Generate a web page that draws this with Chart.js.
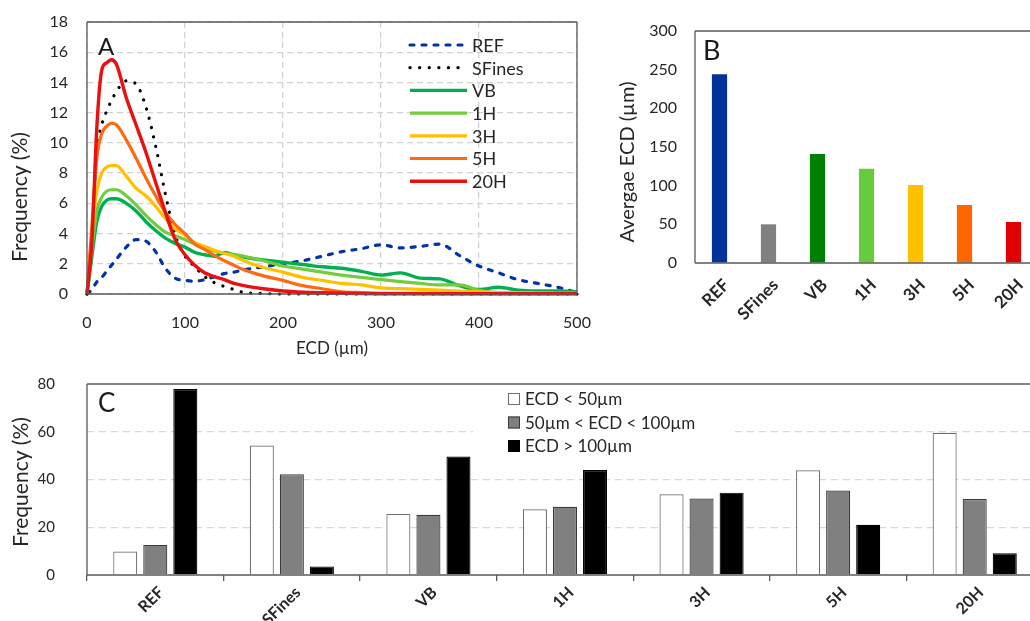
<!DOCTYPE html>
<html>
<head>
<meta charset="utf-8">
<script src="https://cdn.jsdelivr.net/npm/chart.js@4.4.1/dist/chart.umd.min.js"></script>
<style>
  html, body { margin: 0; padding: 0; background: #fff; width: 1030px; height: 621px; overflow: hidden; }
  canvas { position: absolute; }
  #chartA { left: 0; top: 0; }
  #chartB { left: 600px; top: 0; }
  #chartC { left: 0; top: 360px; }
</style>
</head>
<body>
<canvas id="chartA" width="600" height="360"></canvas>
<canvas id="chartB" width="450" height="340"></canvas>
<canvas id="chartC" width="1060" height="261"></canvas>
<script>
// ECD classes (µm) used for the size distributions of panel A
const ecd = [0, 5, 10, 15, 20, 25, 30, 40, 50, 60, 70, 80, 90, 100, 110, 120, 130, 140, 150, 160,
  180, 200, 220, 240, 260, 280, 300, 320, 340, 360, 380, 400, 420, 440, 460, 480, 500];

// frequency (%) per sample
const freqREF = [0, 0.3, 0.8, 1.1, 1.5, 1.9, 2.3, 3.1, 3.6, 3.5, 2.8, 1.7, 1.05, 0.9, 0.85, 0.95, 1.15, 1.35, 1.45, 1.6,
  1.8, 2.0, 2.2, 2.5, 2.8, 3.0, 3.25, 3.05, 3.15, 3.3, 2.55, 1.85, 1.4, 0.95, 0.7, 0.45, 0.1];
const freqSFines = [0, 4, 9.4, 11.2, 12.1, 12.8, 13.4, 14.1, 13.9, 12.4, 9.8, 6.6, 3.9, 2.5, 1.8, 1.15, 0.75, 0.5, 0.3, 0.1,
  0.03, 0, 0, 0, 0, 0, 0, 0, 0, 0, 0, 0, 0, 0, 0, 0, 0];
const freqVB = [0, 2.5, 4.8, 5.8, 6.2, 6.3, 6.3, 6.0, 5.5, 4.8, 4.2, 3.7, 3.35, 3.1, 2.75, 2.6, 2.5, 2.75, 2.6, 2.45,
  2.25, 2.1, 1.95, 1.8, 1.7, 1.5, 1.25, 1.4, 1.05, 1.0, 0.55, 0.3, 0.45, 0.25, 0.2, 0.2, 0.15];
const freq1H = [0, 3, 5.5, 6.4, 6.8, 6.9, 6.9, 6.5, 5.9, 5.2, 4.6, 4.1, 3.85, 3.6, 3.3, 3.05, 2.85, 2.7, 2.6, 2.5,
  2.2, 1.85, 1.65, 1.45, 1.25, 1.1, 0.95, 0.82, 0.7, 0.6, 0.6, 0.25, 0.1, 0.1, 0.08, 0.06, 0.05];
const freq3H = [0, 4, 6.8, 8.0, 8.4, 8.5, 8.5, 7.8, 7.0, 6.5, 5.8, 5.0, 4.3, 3.9, 3.4, 3.15, 2.9, 2.7, 2.5, 2.2,
  1.75, 1.45, 1.1, 0.9, 0.7, 0.6, 0.4, 0.35, 0.3, 0.25, 0.2, 0.15, 0.1, 0.08, 0.06, 0.05, 0.05];
const freq5H = [0, 4.5, 9.0, 10.6, 11.1, 11.3, 11.2, 10.2, 9.0, 7.7, 6.5, 5.4, 4.6, 4.0, 3.3, 2.95, 2.55, 2.2, 1.9, 1.6,
  1.2, 0.9, 0.55, 0.35, 0.15, 0.1, 0.05, 0.05, 0.05, 0.03, 0.03, 0.02, 0.02, 0.02, 0.02, 0.02, 0.02];
const freq20H = [0, 3.5, 11, 14.8, 15.3, 15.5, 15.2, 13.0, 11.2, 9.4, 7.4, 5.4, 3.6, 2.6, 1.9, 1.4, 1.15, 0.95, 0.7, 0.55,
  0.35, 0.2, 0.12, 0.08, 0.05, 0.03, 0.02, 0.02, 0.02, 0.02, 0.02, 0.02, 0.02, 0.02, 0.02, 0.02, 0.02];

// panel B and C
const samples = ['REF', 'SFines', 'VB', '1H', '3H', '5H', '20H'];
const avgECD = [244, 50, 141, 122, 101, 75, 53];
const below50 = [9.8, 54.2, 25.6, 27.5, 33.8, 43.9, 59.6];
const from50to100 = [12.6, 42.2, 25.2, 28.6, 32.0, 35.4, 31.8];
const above100 = [77.9, 3.6, 49.6, 44.0, 34.5, 21.0, 9.1];
const classLabels = ['ECD < 50µm', '50µm < ECD < 100µm', 'ECD > 100µm'];

const FONT = 'Lato, "Open Sans", sans-serif';
const INK = '#262626';
const NONE = 'rgba(0,0,0,0)';
Chart.defaults.font.family = FONT;
Chart.defaults.color = INK;
Chart.defaults.animation = false;
Chart.defaults.events = [];
Chart.defaults.plugins.legend.display = false;
Chart.defaults.plugins.tooltip.enabled = false;

// frame lines, panel letter, axis titles
const decor = {
  id: 'decor',
  afterDraw(chart, args, o) {
    const ctx = chart.ctx, a = chart.chartArea;
    ctx.save();
    ctx.strokeStyle = '#595959';
    ctx.lineWidth = 1.3;
    ctx.setLineDash([]);
    ctx.beginPath();
    (o.sides || []).forEach(s => {
      if (s === 'left') { ctx.moveTo(a.left, a.top); ctx.lineTo(a.left, a.bottom); }
      if (s === 'right') { ctx.moveTo(a.right, a.top); ctx.lineTo(a.right, a.bottom); }
      if (s === 'top') { ctx.moveTo(a.left, a.top); ctx.lineTo(a.right, a.top); }
      if (s === 'bottom') { ctx.moveTo(a.left, a.bottom); ctx.lineTo(a.right, a.bottom); }
    });
    ctx.stroke();

    ctx.fillStyle = '#1a1a1a';
    ctx.textAlign = 'left';
    ctx.textBaseline = 'alphabetic';
    ctx.font = o.letterSize + 'px ' + FONT;
    ctx.fillText(o.letter, a.left + o.letterX, a.top + o.letterY);

    ctx.fillStyle = INK;
    ctx.textAlign = 'center';
    ctx.textBaseline = 'middle';
    if (o.yTitle) {
      ctx.font = o.yTitle.size + 'px ' + FONT;
      ctx.save();
      ctx.translate(o.yTitle.x, o.yTitle.y);
      ctx.rotate(-Math.PI / 2);
      ctx.fillText(o.yTitle.text, 0, 0);
      ctx.restore();
    }
    if (o.xTitle) {
      ctx.font = o.xTitle.size + 'px ' + FONT;
      ctx.fillText(o.xTitle.text, o.xTitle.x, o.xTitle.y);
    }
    ctx.restore();
  }
};

// legend with line samples (panel A)
const lineLegend = {
  id: 'lineLegend',
  afterDraw(chart, args, o) {
    if (!o.show) return;
    const ctx = chart.ctx;
    ctx.save();
    chart.data.datasets.forEach((ds, i) => {
      const y = o.y + i * o.step;
      ctx.strokeStyle = ds.borderColor;
      ctx.lineWidth = ds.borderWidth;
      ctx.lineCap = ds.borderCapStyle || 'butt';
      ctx.setLineDash(ds.borderDash || []);
      ctx.beginPath();
      ctx.moveTo(o.x1, y);
      ctx.lineTo(o.x2, y);
      ctx.stroke();
      ctx.fillStyle = INK;
      ctx.font = o.size + 'px ' + FONT;
      ctx.textBaseline = 'middle';
      ctx.fillText(ds.label, o.x2 + 5, y + 1);
    });
    ctx.restore();
  }
};

// legend with boxes (panel C)
const boxLegend = {
  id: 'boxLegend',
  afterDraw(chart, args, o) {
    if (!o.show) return;
    const ctx = chart.ctx;
    ctx.save();
    ctx.fillStyle = '#fff';
    ctx.fillRect(o.bx, o.by, o.bw, o.bh);
    chart.data.datasets.forEach((ds, i) => {
      const y = o.y + i * o.step;
      ctx.fillStyle = ds.backgroundColor;
      ctx.fillRect(o.x, y - 6, 12, 12);
      ctx.strokeStyle = ds.borderColor;
      ctx.lineWidth = 1;
      ctx.strokeRect(o.x + 0.5, y - 5.5, 11, 11);
      ctx.fillStyle = INK;
      ctx.font = o.size + 'px ' + FONT;
      ctx.textBaseline = 'middle';
      ctx.fillText(ds.label, o.x + 17, y + 1);
    });
    ctx.restore();
  }
};

Chart.register(decor, lineLegend, boxLegend);

// ---------- A ----------
const styleA = [
  { label: 'REF', data: freqREF, color: '#0033a6', width: 3.2, dash: [4, 8], cap: 'round' },
  { label: 'SFines', data: freqSFines, color: '#000000', width: 3.2, dash: [0.1, 9.5], cap: 'round' },
  { label: 'VB', data: freqVB, color: '#00b050', width: 3.4 },
  { label: '1H', data: freq1H, color: '#72cc3c', width: 3.2 },
  { label: '3H', data: freq3H, color: '#ffc000', width: 3.2 },
  { label: '5H', data: freq5H, color: '#ff6a10', width: 3.2 },
  { label: '20H', data: freq20H, color: '#e81010', width: 3.4 }
];

// the gap between axis and labels is made with invisible tick marks,
// so that it does not widen the automatic padding of the layout
const gridA = { color: '#d2d2d2', lineWidth: 1.3, drawTicks: true, tickLength: 19, tickColor: NONE };

new Chart(document.getElementById('chartA'), {
  type: 'line',
  data: {
    datasets: styleA.map((s, i) => ({
      label: s.label,
      data: ecd.map((x, j) => ({ x: x, y: s.data[j] })),
      borderColor: s.color,
      backgroundColor: s.color,
      borderWidth: s.width,
      borderDash: s.dash || [],
      borderCapStyle: s.cap || 'butt',
      pointRadius: 0,
      fill: false,
      cubicInterpolationMode: 'monotone',
      clip: 4,
      order: styleA.length - i
    }))
  },
  options: {
    responsive: false,
    layout: { padding: { top: 22, right: 23, left: 0, bottom: 0 } },
    scales: {
      x: {
        type: 'linear', min: 0, max: 500,
        ticks: { stepSize: 100, padding: 0, font: { size: 16 } },
        grid: gridA,
        border: { display: false, dash: [6, 4] },
        afterFit: s => { s.height = 66; }
      },
      y: {
        min: 0, max: 18,
        ticks: { stepSize: 2, padding: 0, font: { size: 16 } },
        grid: gridA,
        border: { display: false, dash: [6, 4] },
        afterFit: s => { s.width = 87; }
      }
    },
    plugins: {
      decor: {
        sides: ['left', 'right', 'top', 'bottom'],
        letter: 'A', letterSize: 24, letterX: 11, letterY: 33,
        yTitle: { text: 'Frequency (%)', size: 21, x: 20, y: 197 },
        xTitle: { text: 'ECD (µm)', size: 17, x: 332, y: 349 }
      },
      lineLegend: { show: true, x1: 410, x2: 467, y: 45, step: 22.7, size: 18 }
    }
  }
});

// ---------- B ----------
const colorsB = ['#003399', '#808080', '#008000', '#66cc3c', '#ffc000', '#ff6600', '#e00000'];

new Chart(document.getElementById('chartB'), {
  type: 'bar',
  data: {
    labels: samples,
    datasets: [{
      label: 'Avergae ECD (µm)',
      data: avgECD,
      backgroundColor: colorsB,
      borderWidth: 0,
      barPercentage: 0.31,
      categoryPercentage: 1
    }]
  },
  options: {
    responsive: false,
    layout: { padding: { top: 31, right: 12, left: 0, bottom: 0 } },
    scales: {
      x: {
        ticks: { minRotation: 45, maxRotation: 45, padding: 0, labelOffset: 7, font: { size: 17, weight: 'bold' } },
        grid: { display: true, drawOnChartArea: false, drawTicks: true, tickLength: 12, color: NONE },
        border: { display: false },
        afterFit: s => { s.height = 77; }
      },
      y: {
        min: 0, max: 300,
        ticks: { stepSize: 50, padding: 0, font: { size: 16 } },
        grid: { display: true, drawOnChartArea: false, drawTicks: true, tickLength: 18, color: NONE },
        border: { display: false },
        afterFit: s => { s.width = 95; }
      }
    },
    plugins: {
      decor: {
        sides: ['left', 'top', 'bottom'],
        letter: 'B', letterSize: 27, letterX: 8, letterY: 29,
        yTitle: { text: 'Avergae ECD (µm)', size: 20, x: 28, y: 162 }
      }
    }
  }
});

// ---------- C ----------
const styleC = [
  { data: below50, fill: '#ffffff', line: '#6e6e6e' },
  { data: from50to100, fill: '#808080', line: '#3a3a3a' },
  { data: above100, fill: '#000000', line: '#000000' }
];

new Chart(document.getElementById('chartC'), {
  type: 'bar',
  data: {
    labels: samples,
    datasets: styleC.map((s, i) => ({
      label: classLabels[i],
      data: s.data,
      backgroundColor: s.fill,
      borderColor: s.line,
      borderWidth: 1.2,
      barPercentage: 0.8,
      categoryPercentage: 0.66
    }))
  },
  options: {
    responsive: false,
    layout: { padding: { top: 24, right: 17, left: 0, bottom: 0 } },
    scales: {
      x: {
        ticks: { minRotation: 45, maxRotation: 45, padding: 2, labelOffset: 6, font: { size: 16, weight: 'bold' } },
        grid: { display: true, drawOnChartArea: false, drawTicks: true, tickLength: 6, color: '#595959', lineWidth: 1.3, offset: true },
        border: { display: false },
        afterFit: s => { s.height = 46; }
      },
      y: {
        min: 0, max: 80,
        ticks: { stepSize: 20, padding: 0, font: { size: 15 } },
        grid: {
          drawTicks: true, tickLength: 32, tickColor: NONE, lineWidth: 1.3,
          color: c => (c.tick && (c.tick.value === 0 || c.tick.value === 80)) ? NONE : '#d6d6d6'
        },
        border: { display: false, dash: [7, 5] },
        afterFit: s => { s.width = 87; }
      }
    },
    plugins: {
      decor: {
        sides: ['left', 'top', 'bottom'],
        letter: 'C', letterSize: 26, letterX: 11, letterY: 28,
        yTitle: { text: 'Frequency (%)', size: 21, x: 21, y: 122 }
      },
      boxLegend: { show: true, bx: 473, by: 26, bw: 262, bh: 70, x: 508, y: 39, step: 23.5, size: 17 }
    }
  }
});
</script>
</body>
</html>
